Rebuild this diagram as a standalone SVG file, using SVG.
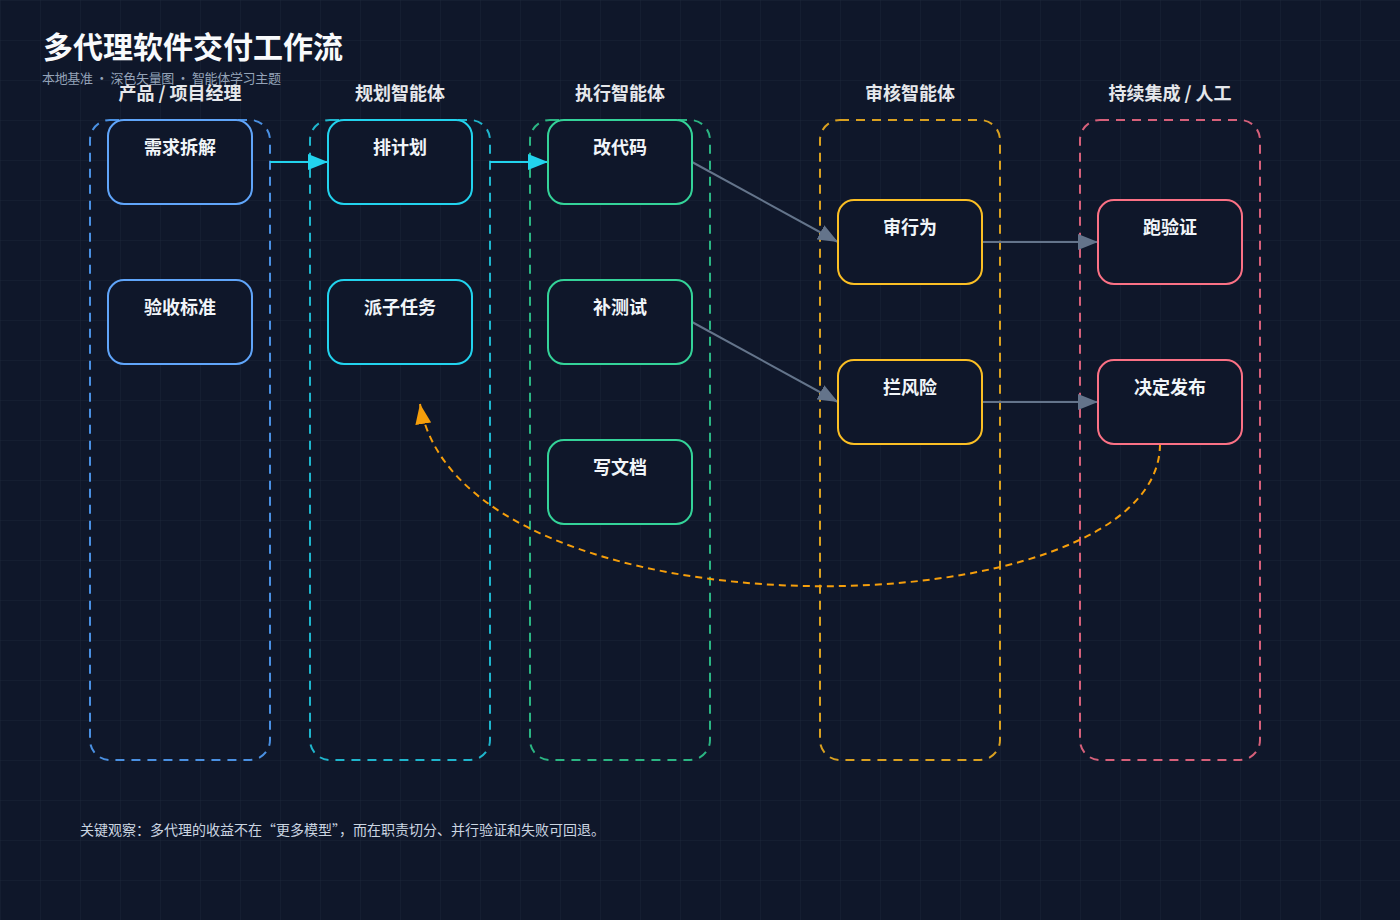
<svg xmlns="http://www.w3.org/2000/svg" width="1400" height="920" viewBox="0 0 1400 920">
<defs>
<pattern id="grid" width="40" height="40" patternUnits="userSpaceOnUse">
<path d="M40 0 L0 0 0 40" fill="none" stroke="#1c2638" stroke-width="1"/>
</pattern>
<marker id="aCyan" viewBox="0 0 20 16" markerWidth="20" markerHeight="16" refX="20" refY="8" orient="auto" markerUnits="userSpaceOnUse"><path d="M0,0 L20,8 L0,16 z" fill="#22d3ee"/></marker>
<marker id="aGray" viewBox="0 0 20 16" markerWidth="20" markerHeight="16" refX="20" refY="8" orient="auto" markerUnits="userSpaceOnUse"><path d="M0,0 L20,8 L0,16 z" fill="#64748b"/></marker>
<marker id="aOrange" viewBox="0 0 20 16" markerWidth="20" markerHeight="16" refX="20" refY="8" orient="auto" markerUnits="userSpaceOnUse"><path d="M0,0 L20,8 L0,16 z" fill="#f59e0b"/></marker>
</defs>
<style>
text{font-family:"Noto Sans CJK SC","Liberation Sans",sans-serif;}
.lane{fill:none;stroke-width:2;stroke-dasharray:9 7;}
.lt{font-size:18px;font-weight:bold;fill:#e5e7eb;text-anchor:middle;}
.node rect{fill:#0f172a;stroke-width:2;}
.nt{font-size:18px;font-weight:bold;fill:#f1f5f9;text-anchor:middle;}
.c{fill:none;stroke-width:2;}
</style>
<rect width="1400" height="920" fill="#0f172a"/>
<rect width="1400" height="920" fill="url(#grid)"/>
<text x="43" y="58" font-size="30" font-weight="bold" fill="#f8fafc">多代理软件交付工作流</text>
<text x="42" y="83" font-size="13" fill="#94a3b8" textLength="239" lengthAdjust="spacing">本地基准 · 深色矢量图 · 智能体学习主题</text>

<g id="lanes">
<g id="lane-pm"><rect class="lane" x="90" y="120" width="180" height="640" rx="20" stroke="#4a90e2"/><text class="lt" x="180" y="100" xml:space="preserve">产品 / 项目经理</text></g>
<g id="lane-plan"><rect class="lane" x="310" y="120" width="180" height="640" rx="20" stroke="#1fb5cc"/><text class="lt" x="400" y="100">规划智能体</text></g>
<g id="lane-exec"><rect class="lane" x="530" y="120" width="180" height="640" rx="20" stroke="#2bb583"/><text class="lt" x="620" y="100">执行智能体</text></g>
<g id="lane-review"><rect class="lane" x="820" y="120" width="180" height="640" rx="20" stroke="#d9a020"/><text class="lt" x="910" y="100">审核智能体</text></g>
<g id="lane-ci"><rect class="lane" x="1080" y="120" width="180" height="640" rx="20" stroke="#d6607a"/><text class="lt" x="1170" y="100">持续集成 / 人工</text></g>
</g>

<g id="connectors">
<path class="c" d="M270 162 L328 162" stroke="#22d3ee" marker-end="url(#aCyan)"/>
<path class="c" d="M490 162 L548 162" stroke="#22d3ee" marker-end="url(#aCyan)"/>
<path class="c" d="M692 162 L838 242" stroke="#64748b" marker-end="url(#aGray)"/>
<path class="c" d="M692 322 L838 402" stroke="#64748b" marker-end="url(#aGray)"/>
<path class="c" d="M982 242 L1098 242" stroke="#64748b" marker-end="url(#aGray)"/>
<path class="c" d="M982 402 L1098 402" stroke="#64748b" marker-end="url(#aGray)"/>
<path class="c" d="M1160 444 C1160 635, 460 645, 420 404" stroke="#f59e0b" stroke-dasharray="7 5" marker-end="url(#aOrange)"/>
</g>

<g id="n1" class="node"><rect x="108" y="120" width="144" height="84" rx="16" stroke="#60a5fa"/><text class="nt" x="180" y="154">需求拆解</text></g>
<g id="n2" class="node"><rect x="108" y="280" width="144" height="84" rx="16" stroke="#60a5fa"/><text class="nt" x="180" y="314">验收标准</text></g>
<g id="n3" class="node"><rect x="328" y="120" width="144" height="84" rx="16" stroke="#22d3ee"/><text class="nt" x="400" y="154">排计划</text></g>
<g id="n4" class="node"><rect x="328" y="280" width="144" height="84" rx="16" stroke="#22d3ee"/><text class="nt" x="400" y="314">派子任务</text></g>
<g id="n5" class="node"><rect x="548" y="120" width="144" height="84" rx="16" stroke="#34d399"/><text class="nt" x="620" y="154">改代码</text></g>
<g id="n6" class="node"><rect x="548" y="280" width="144" height="84" rx="16" stroke="#34d399"/><text class="nt" x="620" y="314">补测试</text></g>
<g id="n7" class="node"><rect x="548" y="440" width="144" height="84" rx="16" stroke="#34d399"/><text class="nt" x="620" y="474">写文档</text></g>
<g id="n8" class="node"><rect x="838" y="200" width="144" height="84" rx="16" stroke="#fbbf24"/><text class="nt" x="910" y="234">审行为</text></g>
<g id="n9" class="node"><rect x="838" y="360" width="144" height="84" rx="16" stroke="#fbbf24"/><text class="nt" x="910" y="394">拦风险</text></g>
<g id="n10" class="node"><rect x="1098" y="200" width="144" height="84" rx="16" stroke="#fb7185"/><text class="nt" x="1170" y="234">跑验证</text></g>
<g id="n11" class="node"><rect x="1098" y="360" width="144" height="84" rx="16" stroke="#fb7185"/><text class="nt" x="1170" y="394">决定发布</text></g>

<text x="80" y="835" font-size="14" fill="#cbd5e1">关键观察：多代理的收益不在“更多模型”，而在职责切分、并行验证和失败可回退。</text>
</svg>
